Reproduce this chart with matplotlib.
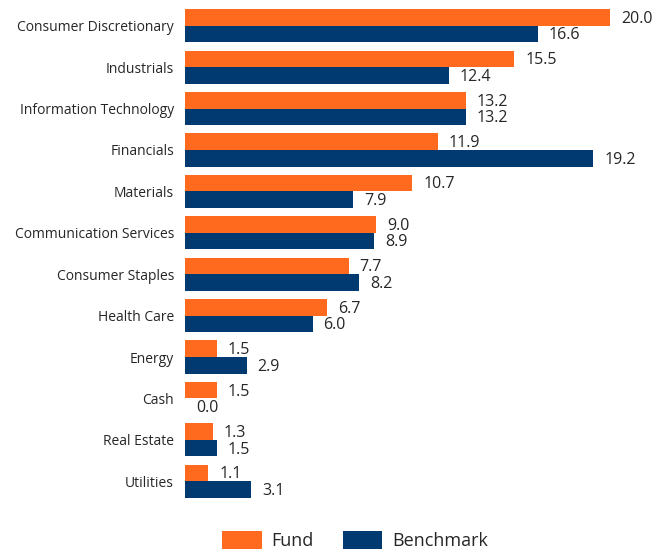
import matplotlib
matplotlib.use("Agg")
import matplotlib.pyplot as plt
import numpy as np

categories = ["Consumer Discretionary", "Industrials", "Information Technology", "Financials",
              "Materials", "Communication Services", "Consumer Staples", "Health Care",
              "Energy", "Cash", "Real Estate", "Utilities"]
fund = [20.0, 15.5, 13.2, 11.9, 10.7, 9.0, 7.7, 6.7, 1.5, 1.5, 1.3, 1.1]
benchmark = [16.6, 12.4, 13.2, 19.2, 7.9, 8.9, 8.2, 6.0, 2.9, 0.0, 1.5, 3.1]

ORANGE = "#FF6A1E"
NAVY = "#003A70"

plt.rcParams['font.family'] = ['Open Sans', 'DejaVu Sans']

fig = plt.figure(figsize=(6.52, 5.52), dpi=100)
ax = fig.add_axes([185/652, 50/552, 465/652, 497/552])

y = np.arange(len(categories))
h = 0.4
ax.barh(y - h/2, fund, height=h, color=ORANGE, label="Fund")
ax.barh(y + h/2, benchmark, height=h, color=NAVY, label="Benchmark")

for yi, v in zip(y, fund):
    ax.annotate(f"{v:.1f}", (v, yi - h/2), xytext=(8, -1), textcoords="offset points",
                va="center", ha="left", fontsize=11.5, color="#262626")
for yi, v in zip(y, benchmark):
    ax.annotate(f"{v:.1f}", (v, yi + h/2), xytext=(8, -1), textcoords="offset points",
                va="center", ha="left", fontsize=11.5, color="#262626")

ax.set_xlim(0, 465/21.25)
ax.set_ylim(len(categories) - 0.5, -0.5)
ax.set_yticks(y)
ax.set_yticklabels(categories, fontsize=10, color="#262626")
ax.tick_params(axis='y', length=0, pad=8)
ax.set_xticks([])
for s in ax.spines.values():
    s.set_visible(False)

fig.legend(loc="lower center", bbox_to_anchor=(355/652, -0.026), ncol=2, frameon=False,
           fontsize=13, handlelength=2.2, handleheight=1.1, columnspacing=1.6,
           handletextpad=0.55, labelcolor="#262626")

fig.savefig("out.png", dpi=100)
